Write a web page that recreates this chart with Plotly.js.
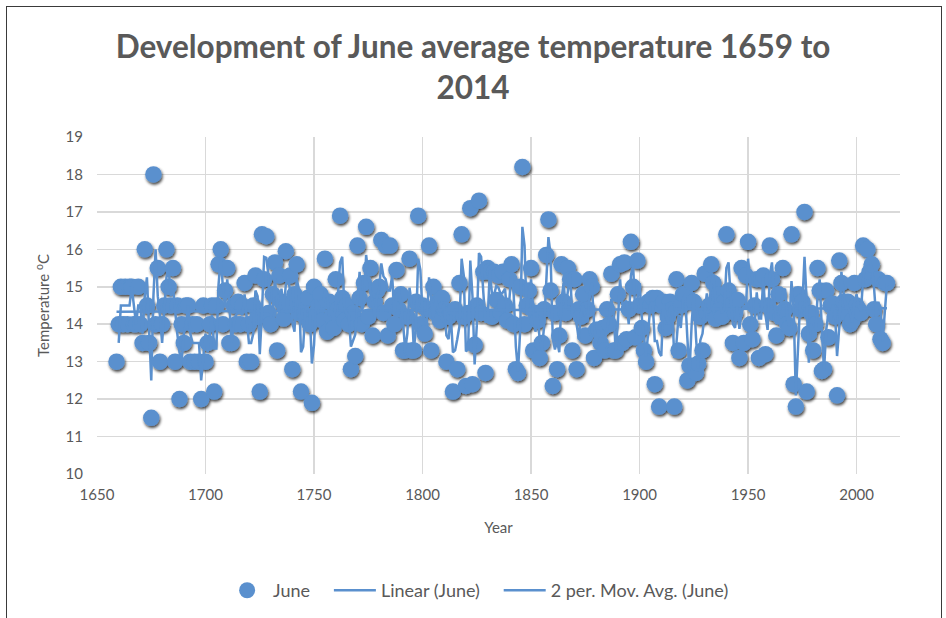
<!DOCTYPE html>
<html>
<head>
<meta charset="utf-8">
<script src="https://cdn.plot.ly/plotly-3.0.1.min.js"></script>
<style>
  html, body { margin: 0; padding: 0; background: #fff; }
  #wrap { position: relative; width: 946px; height: 618px; overflow: hidden; }
  #chart { width: 946px; height: 618px; }
  #frame { position: absolute; left: 6px; top: 6px; width: 934px; height: 640px; border: 1.5px solid #3a3a3a; pointer-events: none; }
</style>
</head>
<body>
<div id="wrap">
  <div id="chart"></div>
  <div id="frame"></div>
</div>
<script>
// ---- data ----
const startYear = 1659;
const juneTemp = [
  13.0,
  14.0,15.0,14.0,15.0,14.0,15.0,15.0,14.0,14.0,15.0,
  14.0,13.5,16.0,14.5,13.5,11.5,18.0,14.0,15.5,13.0,
  14.0,14.5,16.0,15.0,14.5,15.5,13.0,14.5,12.0,14.0,
  13.5,14.5,14.5,13.0,14.0,13.0,14.0,13.0,12.0,14.5,
  13.0,13.5,14.0,14.5,12.2,14.5,15.6,16.0,14.0,14.9,
  15.5,13.5,13.5,14.5,14.0,14.6,14.0,14.5,15.1,13.0,
  14.0,13.0,14.5,15.3,14.2,12.2,16.4,15.2,16.35,14.3,
  14.0,14.8,15.65,13.3,15.3,14.6,14.15,15.95,14.5,15.3,
  12.8,14.8,15.6,14.3,12.2,14.6,14.2,14.7,14.0,11.9,
  15.0,14.3,14.5,14.8,14.1,15.75,13.8,14.6,14.2,13.9,
  15.2,14.4,16.9,14.7,14.1,14.5,14.0,12.8,14.3,13.15,
  16.1,14.7,14.0,15.1,16.6,14.2,15.5,13.7,14.6,14.9,
  15.0,16.25,14.3,16.1,13.7,16.1,14.5,14.0,15.45,14.4,
  14.8,13.3,13.3,14.2,15.75,13.3,13.3,14.6,16.9,14.0,
  14.5,13.75,14.4,16.1,13.3,15.0,14.3,14.6,14.1,14.7,
  14.4,13.0,14.2,14.3,12.2,14.4,12.8,15.1,16.4,14.2,
  12.35,14.3,17.1,12.4,13.45,14.5,17.3,14.3,15.4,12.7,
  15.5,15.4,14.2,15.4,14.65,15.3,14.3,15.4,14.5,14.1,
  15.2,15.6,14.0,12.8,12.7,15.0,18.2,14.0,14.5,14.9,
  15.5,13.3,14.3,14.1,13.1,13.5,14.4,15.85,16.8,14.9,
  12.35,14.3,12.8,13.7,15.6,14.6,14.3,15.5,15.2,13.3,
  15.2,12.8,14.4,14.2,14.8,13.7,14.4,15.2,15.0,13.1,
  13.85,13.85,13.5,13.9,13.3,14.4,14.0,15.35,13.3,13.3,
  14.8,15.6,13.5,15.65,13.6,14.4,16.2,15.0,13.65,15.7,
  14.5,13.9,13.3,13.0,14.6,14.5,14.7,12.4,14.7,11.8,
  14.5,14.6,13.9,14.2,14.6,14.4,11.8,15.2,13.3,14.5,
  14.8,14.8,12.5,12.9,15.1,14.6,12.7,12.95,14.2,13.3,
  15.35,14.3,14.5,15.6,15.1,14.15,14.8,14.4,14.2,14.6,
  16.4,14.9,14.5,13.5,14.3,14.65,13.1,15.5,13.5,15.3,
  16.2,14.0,13.6,14.5,15.2,13.1,15.2,15.3,13.2,14.5,
  16.1,15.2,14.3,13.7,14.8,14.2,15.5,14.4,14.0,13.9,
  16.4,12.4,11.8,14.8,14.4,14.6,17.0,12.2,13.75,14.3,
  13.3,14.0,15.5,14.9,12.75,12.8,14.9,13.65,14.5,14.55,
  14.2,12.1,15.7,15.1,14.6,14.3,14.6,14.0,14.1,15.1,
  14.5,14.4,14.3,16.1,15.2,16.0,15.4,15.6,14.4,14.0,
  15.2,13.6,13.5,15.1,15.1
];
const seriesNames = ["June", "Linear (June)", "2 per. Mov. Avg. (June)"];
const chartTitle = "Development of June average temperature 1659 to<br>2014";
const xTitle = "Year";
const yTitle = "Temperature <sup>o</sup>C";

// ---- derived series (as Excel computes them) ----
const years = juneTemp.map((_, i) => startYear + i);
const maX = [], maY = [];
for (let i = 1; i < juneTemp.length; i++) {
  maX.push(years[i]);
  maY.push((juneTemp[i - 1] + juneTemp[i]) / 2);
}
const n = years.length;
const mx = years.reduce((a, b) => a + b, 0) / n;
const my = juneTemp.reduce((a, b) => a + b, 0) / n;
let sxy = 0, sxx = 0;
for (let i = 0; i < n; i++) { sxy += (years[i] - mx) * (juneTemp[i] - my); sxx += (years[i] - mx) ** 2; }
const slope = sxy / sxx, icpt = my - slope * mx;
const linX = [years[0], years[n - 1]];
const linY = linX.map(x => icpt + slope * x);

const blue = "#5A90CE";
const font = "Lato, 'Open Sans', sans-serif";
const pad = "\u00a0\u00a0\u00a0";
const traces = [
  { x: years, y: juneTemp, name: seriesNames[0] + pad, type: "scatter", mode: "markers",
    marker: { color: blue, size: 16.5, line: { width: 0 } } },
  { x: linX, y: linY, name: seriesNames[1] + pad, type: "scatter", mode: "lines",
    line: { color: blue, width: 2.5 } },
  { x: maX, y: maY, name: seriesNames[2], type: "scatter", mode: "lines",
    line: { color: blue, width: 2.5 } }
];

const layout = {
  width: 946, height: 618,
  margin: { l: 97, r: 46, t: 137, b: 144, autoexpand: false },
  paper_bgcolor: "#fff", plot_bgcolor: "#fff",
  font: { family: font, color: "#595959", size: 15 },
  title: { text: chartTitle, font: { family: font, size: 31.5, color: "#595959", weight: "bold" },
           x: 0.5, xanchor: "center", y: 0.906, yanchor: "top", automargin: false },
  showlegend: true,
  legend: { orientation: "h", x: 0.474, xanchor: "center", y: -0.291, yanchor: "top",
            itemwidth: 42, font: { size: 18, color: "#595959" }, traceorder: "normal" },
  xaxis: { range: [1650, 2020], dtick: 50, tick0: 1650, showgrid: true, gridcolor: "#D9D9D9", gridwidth: 1.5,
           zeroline: false, showline: false, ticks: "outside", ticklen: 7, tickcolor: "rgba(0,0,0,0)",
           tickfont: { size: 15, color: "#595959" }, automargin: false,
           title: { text: xTitle, font: { size: 15, color: "#595959" }, standoff: 20 } },
  yaxis: { range: [10, 19], dtick: 1, showgrid: true, gridcolor: "#D9D9D9", gridwidth: 1.5,
           zeroline: false, showline: false, ticks: "outside", ticklen: 10, tickcolor: "rgba(0,0,0,0)",
           tickfont: { size: 15, color: "#595959" }, automargin: false,
           title: { text: yTitle, font: { size: 15, color: "#595959" }, standoff: 12 } }
};

function addShadow(gd) {
  const svg = gd.querySelector("svg.main-svg");
  if (!svg) return;
  const NS = "http://www.w3.org/2000/svg";
  let defs = svg.querySelector("defs");
  if (!defs) { defs = document.createElementNS(NS, "defs"); svg.insertBefore(defs, svg.firstChild); }
  const f = document.createElementNS(NS, "filter");
  f.setAttribute("id", "mshadow");
  f.setAttribute("filterUnits", "userSpaceOnUse");
  f.setAttribute("x", "0"); f.setAttribute("y", "0");
  f.setAttribute("width", "946"); f.setAttribute("height", "618");
  const blur = document.createElementNS(NS, "feGaussianBlur");
  blur.setAttribute("in", "SourceAlpha"); blur.setAttribute("stdDeviation", "1.8"); blur.setAttribute("result", "b");
  const off = document.createElementNS(NS, "feOffset");
  off.setAttribute("in", "b"); off.setAttribute("dx", "1.3"); off.setAttribute("dy", "1.8"); off.setAttribute("result", "o");
  const ct = document.createElementNS(NS, "feComponentTransfer");
  ct.setAttribute("in", "o"); ct.setAttribute("result", "s");
  const fa = document.createElementNS(NS, "feFuncA");
  fa.setAttribute("type", "linear"); fa.setAttribute("slope", "0.75");
  ct.appendChild(fa);
  const merge = document.createElementNS(NS, "feMerge");
  const m1 = document.createElementNS(NS, "feMergeNode"); m1.setAttribute("in", "s");
  const m2 = document.createElementNS(NS, "feMergeNode"); m2.setAttribute("in", "SourceGraphic");
  merge.appendChild(m1); merge.appendChild(m2);
  [blur, off, ct, merge].forEach(e => f.appendChild(e));
  defs.appendChild(f);
  const pts = gd.querySelectorAll(".scatterlayer .trace")[0];
  if (pts) {
    const g = pts.querySelector(".points") || pts;
    g.setAttribute("filter", "url(#mshadow)");
    g.style.filter = "url(#mshadow)";
  }
}

Plotly.newPlot("chart", traces, layout, { displayModeBar: false, staticPlot: true })
  .then(addShadow);
</script>
</body>
</html>
